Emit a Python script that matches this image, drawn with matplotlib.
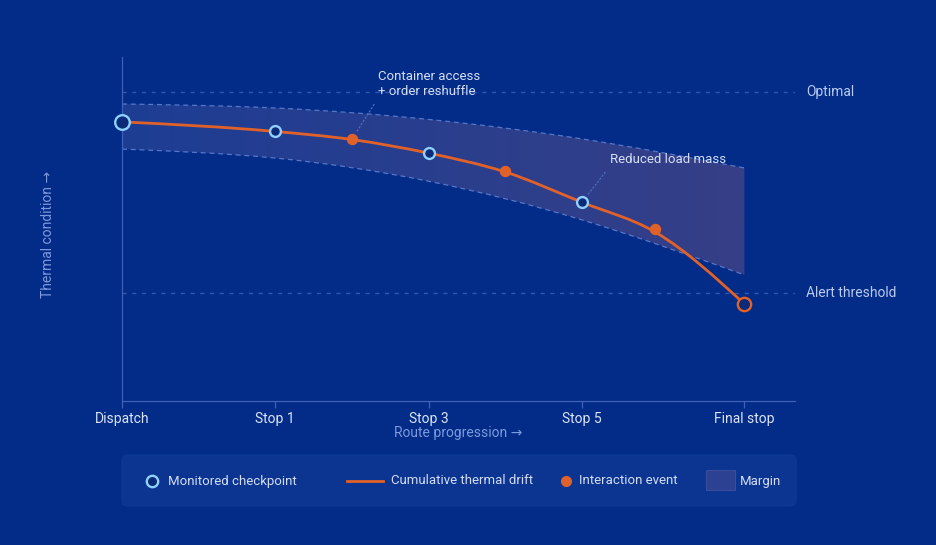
import numpy as np
import matplotlib
matplotlib.use("Agg")
import matplotlib.pyplot as plt
from matplotlib.path import Path
from matplotlib.patches import PathPatch, FancyBboxPatch, Rectangle
from matplotlib.colors import LinearSegmentedColormap
import matplotlib.transforms as mtransforms

plt.rcParams['font.family'] = ['Roboto', 'DejaVu Sans']

# ---------------- data ----------------
checkpoint_labels = ['Dispatch', 'Stop 1', 'Stop 3', 'Stop 5', 'Final stop']
checkpoint_x = [0, 1, 2, 3, 4.06]
checkpoint_y = [90.3, 87.2, 80.2, 64.3, 31.4]
event_x = [1.5, 2.5, 3.48]
event_y = [84.7, 74.4, 55.6]
# cumulative drift line (checkpoints + event positions)
drift_x = [0, 1, 1.5, 2, 2.5, 3, 3.48, 4.06]
drift_y = [90.3, 87.2, 84.6, 80.2, 74.1, 64.3, 54.6, 31.4]
margin_upper = [96.1, 94.8, 91.1, 84.8, 75.4]
margin_lower = [81.5, 78.6, 71.1, 58.6, 40.8]
optimal_level = 100
alert_level = 35
annotations = [('Container access\n+ order reshuffle', 'event', 0),
               ('Reduced load mass', 'checkpoint', 3)]
legend_labels = ['Monitored checkpoint', 'Cumulative thermal drift',
                 'Interaction event', 'Margin']

# ---------------- style ----------------
BG = '#022c87'
ORANGE = '#e0622a'
CP_EDGE = '#8fd0ff'
CP_FILL = '#0b2a78'
SPINE = '#3d60b8'
REF = '#2f56b0'
TICK_TXT = '#dbe3f5'
AX_TXT = '#7e99dd'
ANN_TXT = '#d5def5'


def monotone_path(xs, ys):
    """Bezier path (monotone cubic, d3 curveMonotoneX style) through points."""
    xs = np.asarray(xs, float)
    ys = np.asarray(ys, float)
    n = len(xs)
    h = np.diff(xs)
    s = np.diff(ys) / h
    t = np.zeros(n)
    for i in range(1, n - 1):
        h0, h1 = h[i - 1], h[i]
        s0, s1 = s[i - 1], s[i]
        p = (s0 * h1 + s1 * h0) / (h0 + h1)
        t[i] = (np.sign(s0) + np.sign(s1)) * min(abs(s0), abs(s1), 0.5 * abs(p))
    t[0] = (3 * s[0] - t[1]) / 2
    t[-1] = (3 * s[-1] - t[-2]) / 2
    verts = [(xs[0], ys[0])]
    codes = [Path.MOVETO]
    for i in range(n - 1):
        dx = xs[i + 1] - xs[i]
        verts += [(xs[i] + dx / 3, ys[i] + dx * t[i] / 3),
                  (xs[i + 1] - dx / 3, ys[i + 1] - dx * t[i + 1] / 3),
                  (xs[i + 1], ys[i + 1])]
        codes += [Path.CURVE4] * 3
    return verts, codes


def spline_path(xs, ys):
    """Natural cubic spline through the points, as Bezier path segments."""
    xs = np.asarray(xs, float)
    ys = np.asarray(ys, float)
    n = len(xs)
    h = np.diff(xs)
    s = np.diff(ys) / h
    A = np.zeros((n, n))
    b = np.zeros(n)
    A[0, 0] = A[-1, -1] = 1.0
    for i in range(1, n - 1):
        A[i, i - 1] = h[i - 1]
        A[i, i] = 2 * (h[i - 1] + h[i])
        A[i, i + 1] = h[i]
        b[i] = 6 * (s[i] - s[i - 1])
    M = np.linalg.solve(A, b)
    verts = [(xs[0], ys[0])]
    codes = [Path.MOVETO]
    for i in range(n - 1):
        hi = h[i]
        d0 = s[i] - hi * (2 * M[i] + M[i + 1]) / 6
        d1 = s[i] + hi * (M[i] + 2 * M[i + 1]) / 6
        verts += [(xs[i] + hi / 3, ys[i] + hi * d0 / 3),
                  (xs[i + 1] - hi / 3, ys[i + 1] - hi * d1 / 3),
                  (xs[i + 1], ys[i + 1])]
        codes += [Path.CURVE4] * 3
    return verts, codes


fig = plt.figure(figsize=(9.36, 5.45), dpi=100, facecolor=BG)
ax = fig.add_axes([122 / 936, 1 - 401 / 545, 673 / 936, 344 / 545])
ax.set_facecolor(BG)
ax.set_xlim(0, 4.39)
ax.set_ylim(0, 111.3)

# ---- margin band with horizontal gradient ----
uv, uc = spline_path(checkpoint_x, margin_upper)
lv, lc = spline_path(checkpoint_x[::-1], margin_lower[::-1])
band_verts = uv + [lv[0]] + lv[1:] + [uv[0]]
band_codes = uc + [Path.LINETO] + lc[1:] + [Path.CLOSEPOLY]
band_patch = PathPatch(Path(band_verts, band_codes), facecolor='none', edgecolor='none')
ax.add_patch(band_patch)
cmap = LinearSegmentedColormap.from_list('band', ['#1d3d94', '#363f87'])
grad = np.linspace(0, 1, 256).reshape(1, -1)
im = ax.imshow(grad, cmap=cmap, aspect='auto',
               extent=[checkpoint_x[0], checkpoint_x[-1], 0, 111.3],
               origin='lower', zorder=1, interpolation='bilinear')
im.set_clip_path(band_patch)

for arr in (margin_upper, margin_lower):
    v, c = spline_path(checkpoint_x, arr)
    ax.add_patch(PathPatch(Path(v, c), facecolor='none', edgecolor='#5677c9',
                           lw=0.9, linestyle=(0, (4, 3)), zorder=2))

# reference lines
ax.axhline(optimal_level, color=REF, lw=1, linestyle=(0, (3, 4)), zorder=1)
ax.axhline(alert_level, color=REF, lw=1, linestyle=(0, (3, 4)), zorder=1)
tr = mtransforms.blended_transform_factory(ax.transAxes, ax.transData)
ax.text(1.0163, optimal_level, 'Optimal', transform=tr, ha='left', va='center',
        color='#b9c9ef', fontsize=10, clip_on=False)
ax.text(1.0163, alert_level, 'Alert threshold', transform=tr, ha='left', va='center',
        color='#b9c9ef', fontsize=10, clip_on=False)

# ---- cumulative drift line ----
dv, dc = monotone_path(drift_x, drift_y)
ax.add_patch(PathPatch(Path(dv, dc), facecolor='none', edgecolor=ORANGE,
                       lw=2.0, capstyle='round', zorder=4))

# events
ax.plot(event_x, event_y, 'o', ms=7.2, color=ORANGE, mec=ORANGE, zorder=5)

# checkpoints
n_cp = len(checkpoint_x)
for i, (cx, cy) in enumerate(zip(checkpoint_x, checkpoint_y)):
    if i == 0:
        ms, ec = 10.5, CP_EDGE
    elif i == n_cp - 1:
        ms, ec = 9.6, ORANGE
    else:
        ms, ec = 7.8, CP_EDGE
    ax.plot([cx], [cy], 'o', ms=ms, mfc=CP_FILL, mec=ec, mew=1.7, zorder=6,
            clip_on=False)

# annotations
offsets = {0: (26, 41), 1: (28, 36)}
for k, (txt, kind, idx) in enumerate(annotations):
    if kind == 'event':
        xy = (event_x[idx], event_y[idx])
    else:
        xy = (checkpoint_x[idx], checkpoint_y[idx])
    ax.annotate(txt, xy=xy, xytext=offsets[k], textcoords='offset pixels',
                ha='left', va='bottom', color=ANN_TXT, fontsize=9.5,
                linespacing=1.25, zorder=7,
                arrowprops=dict(arrowstyle='-', color='#4e6fc2', lw=0.9,
                                linestyle=(0, (1, 2)), shrinkA=3, shrinkB=6,
                                relpos=(0, 0)))

# axes styling
for side in ('top', 'right'):
    ax.spines[side].set_visible(False)
for side in ('left', 'bottom'):
    ax.spines[side].set_color(SPINE)
    ax.spines[side].set_linewidth(0.9)
ax.set_xticks(checkpoint_x)
ax.set_xticklabels(checkpoint_labels)
ax.set_yticks([])
ax.tick_params(axis='x', colors=SPINE, length=5, width=0.9, pad=3,
               labelcolor=TICK_TXT, labelsize=10)
ax.set_xlabel('Route progression →', color=AX_TXT, fontsize=10)
ax.xaxis.label.set_va('center')
ax.xaxis.set_label_coords(0.5, -0.094)
ax.set_ylabel('Thermal condition →', color=AX_TXT, fontsize=10)
ax.yaxis.label.set_va('center')
ax.yaxis.set_label_coords(-0.11, 0.485)

# ---- legend (overlay in pixel coordinates) ----
lax = fig.add_axes([0, 0, 1, 1])
lax.set_xlim(0, 936)
lax.set_ylim(545, 0)
lax.axis('off')
lax.patch.set_visible(False)
lax.add_patch(FancyBboxPatch((122, 455), 674, 51,
                             boxstyle='round,pad=0,rounding_size=6',
                             facecolor='#0b3591', edgecolor='#0e3996', lw=0.8))
ly = 481
LEG_TXT = '#d3dcf2'
lax.plot([152], [ly], 'o', ms=8.2, mfc=CP_FILL, mec=CP_EDGE, mew=1.7)
lax.text(168, ly, legend_labels[0], va='center', ha='left', color=LEG_TXT, fontsize=9.5)
lax.plot([347, 383], [ly, ly], color=ORANGE, lw=2.0)
lax.text(391, ly, legend_labels[1], va='center', ha='left', color=LEG_TXT, fontsize=9.5)
lax.plot([566], [ly], 'o', ms=7, color=ORANGE)
lax.text(579, ly, legend_labels[2], va='center', ha='left', color=LEG_TXT, fontsize=9.5)
lax.add_patch(Rectangle((706, 470), 29, 20, facecolor='#2c4191', edgecolor='#3a4d9c', lw=0.8))
lax.text(740, ly, legend_labels[3], va='center', ha='left', color=LEG_TXT, fontsize=9.5)

fig.savefig('out.png', dpi=100, facecolor=BG)
